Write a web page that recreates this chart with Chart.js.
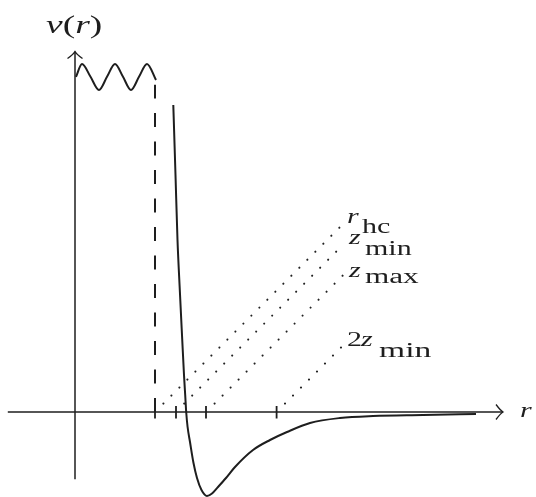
<!DOCTYPE html>
<html>
<head>
<meta charset="utf-8">
<script src="https://cdn.jsdelivr.net/npm/chart.js@4/dist/chart.umd.min.js"></script>
<style>
  html, body { margin: 0; padding: 0; background: #ffffff; }
  #wrap { width: 536px; height: 497px; }
</style>
</head>
<body>
<div id="wrap"><canvas id="c" width="536" height="497"></canvas></div>
<script>
// ---- data (r in units of r_hc, v in arbitrary units) ----
const tickNames  = ['r_hc', 'z_min', 'z_max', '2z_min'];
const tickValues = [1.0, 1.2625, 1.6375, 2.52];

// oscillating part (r < r_hc)
const waveR = [0.0125, 0.0875, 0.194, 0.3, 0.4, 0.5, 0.6, 0.7, 0.8, 0.9, 1.0125];
const waveV = [4.19, 4.35, 4.19, 4.025, 4.19, 4.35, 4.19, 4.025, 4.19, 4.35, 4.15];

// hard-core wall (dashed)
const wallR = [1.0, 1.0];
const wallV = [0.0, 4.09];

// attractive well (r > r_hc)
const potR = [1.22875, 1.25625, 1.28125, 1.31, 1.3375, 1.3625, 1.3775, 1.39, 1.4075, 1.4375, 1.48125, 1.525, 1.58125, 1.65, 1.7125, 1.7875, 1.8875, 2.0, 2.225, 2.4375, 2.65, 2.9375, 3.3125, 3.725, 4.35, 5.0125];
const potV = [3.8375, 2.9625, 2.15, 1.525, 0.9625, 0.4625, 0.2125, 0.0, -0.1875, -0.375, -0.6375, -0.825, -0.975, -1.05, -1.01875, -0.9375, -0.825, -0.6875, -0.475, -0.35, -0.25, -0.1375, -0.075, -0.05, -0.0375, -0.025];

// dotted leader lines from the ticks to their labels
const guideStartR = [1.105, 1.365, 1.745, 2.625];
const guideStartV = [0.105, 0.105, 0.105, 0.105];
const guideEndR   = [3.32, 3.27, 3.35, 3.33];
const guideEndV   = [2.32, 2.01, 1.71, 0.81];

// axis extents
const xAxisFrom = -0.84, xAxisTo = 5.35;
const yAxisFrom = -0.84, yAxisTo = 4.505;

const INK = '#1e1e1e';
const zip = (a, b) => a.map((v, i) => ({ x: v, y: b[i] }));

const datasets = [
  { data: zip(waveR, waveV), borderColor: INK, borderWidth: 2, cubicInterpolationMode: 'monotone', pointRadius: 0 },
  { data: zip(wallR, wallV), borderColor: INK, borderWidth: 2, borderDash: [14, 14.5], pointRadius: 0 },
  { data: zip(potR, potV), borderColor: INK, borderWidth: 2, cubicInterpolationMode: 'monotone', pointRadius: 0 }
];
tickNames.forEach((n, i) => {
  datasets.push({
    data: [{ x: guideStartR[i], y: guideStartV[i] }, { x: guideEndR[i], y: guideEndV[i] }],
    borderColor: '#222', borderWidth: 2.1, borderDash: [0.01, 11.3], borderCapStyle: 'round',
    pointRadius: 0
  });
});

const axesPlugin = {
  id: 'axes',
  beforeDatasetsDraw(chart) {
    const { ctx, scales: { x, y } } = chart;
    const x0 = x.getPixelForValue(0), y0 = y.getPixelForValue(0);
    ctx.save();
    ctx.strokeStyle = INK; ctx.lineWidth = 1.5; ctx.lineCap = 'butt';
    const xa = x.getPixelForValue(xAxisFrom), xb = x.getPixelForValue(xAxisTo);
    ctx.beginPath(); ctx.moveTo(xa, y0); ctx.lineTo(xb, y0); ctx.stroke();
    const ya = y.getPixelForValue(yAxisFrom), yb = y.getPixelForValue(yAxisTo);
    ctx.beginPath(); ctx.moveTo(x0, ya); ctx.lineTo(x0, yb); ctx.stroke();
    ctx.lineWidth = 1.3;
    ctx.beginPath();
    ctx.moveTo(xb - 7, y0 - 7.5);
    ctx.quadraticCurveTo(xb - 2.5, y0 - 1.5, xb, y0);
    ctx.quadraticCurveTo(xb - 2.5, y0 + 1.5, xb - 7, y0 + 7.5);
    ctx.stroke();
    ctx.beginPath();
    ctx.moveTo(x0 - 7.5, yb + 7);
    ctx.quadraticCurveTo(x0 - 1.5, yb + 2.5, x0, yb);
    ctx.quadraticCurveTo(x0 + 1.5, yb + 2.5, x0 + 7.5, yb + 7);
    ctx.stroke();
    ctx.lineWidth = 1.8;
    tickValues.forEach(t => {
      const px = x.getPixelForValue(t);
      ctx.beginPath(); ctx.moveTo(px, y0 - 6); ctx.lineTo(px, y0 + 6.5); ctx.stroke();
    });
    ctx.restore();
  }
};

function fontOf(it, size) {
  return (it ? 'italic ' : '') + size + 'px "Liberation Serif", "DejaVu Serif", serif';
}
function drawPieces(ctx, pieces, sx) {
  pieces.forEach(p => {
    ctx.save();
    ctx.font = fontOf(p.it, p.size);
    ctx.textBaseline = 'alphabetic';
    ctx.textAlign = 'left';
    ctx.fillStyle = INK;
    ctx.translate(p.x, p.y);
    ctx.scale(p.sx || sx, 1);
    ctx.fillText(p.t, 0, 0);
    ctx.restore();
  });
}
function drawRun(ctx, x, y, size, sx, parts) {
  let cx = x;
  parts.forEach(([t, it]) => {
    ctx.save();
    ctx.font = fontOf(it, size);
    const w = ctx.measureText(t).width * sx;
    ctx.restore();
    drawPieces(ctx, [{ t, it, x: cx, y, size }], sx);
    cx += w;
  });
}

const labelPlugin = {
  id: 'labels',
  afterDatasetsDraw(chart) {
    const { ctx } = chart;
    const S = 1.5, F = 20;
    drawRun(ctx, 46, 33.3, 25, 1.5, [['v', true], ['(', false], ['r', true], [')', false]]);
    drawPieces(ctx, [{ t: 'r', it: true, x: 520, y: 417, size: F }], S);
    drawPieces(ctx, [
      { t: 'r',   it: true,  x: 347, y: 223.3, size: F },
      { t: 'hc',  it: false, x: 362, y: 233.3, size: F },
      { t: 'z',   it: true,  x: 349, y: 244.3, size: F },
      { t: 'min', it: false, x: 365, y: 255,   size: F },
      { t: 'z',   it: true,  x: 349, y: 276.7, size: F },
      { t: 'max', it: false, x: 365, y: 283.3, size: F, sx: 1.56 },
      { t: '2',   it: false, x: 347, y: 346,   size: F },
      { t: 'z',   it: true,  x: 361, y: 346,   size: F },
      { t: 'min', it: false, x: 379, y: 356.7, size: F, sx: 1.68 }
    ], S);
  }
};

new Chart(document.getElementById('c'), {
  type: 'line',
  data: { datasets },
  options: {
    responsive: false,
    animation: false,
    parsing: false,
    layout: { padding: 0 },
    plugins: { legend: { display: false }, tooltip: { enabled: false } },
    scales: {
      x: { type: 'linear', min: -0.9375, max: 5.7625, display: false },
      y: { type: 'linear', min: -1.0625, max: 5.15, display: false }
    }
  },
  plugins: [axesPlugin, labelPlugin]
});
</script>
</body>
</html>
